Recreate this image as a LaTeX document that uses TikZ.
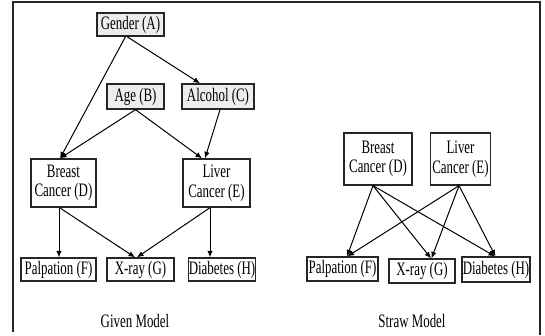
\documentclass[tikz,border=0pt]{standalone}
\usepackage{fontspec}
\setmainfont{Liberation Serif}[FakeStretch=0.68]
\usetikzlibrary{arrows.meta}
\tikzset{
  box/.style={draw=black!85, line width=1.3pt, inner sep=0pt, align=center,
    font=\fontsize{19}{19.5}\selectfont},
  shaded/.style={box, fill=black!7},
  arr/.style={line width=1pt, -{Latex[length=6.5pt,width=5.5pt]}},
  frame/.style={line width=1.1pt, draw=black!85},
  caption/.style={font=\fontsize{19}{19.5}\selectfont, inner sep=0pt, anchor=base}
}
\begin{document}
\begin{tikzpicture}[x=1pt,y=-1pt]
\useasboundingbox (0,0) rectangle (545,335);
% frame
\coordinate (f1) at (13,332);
\coordinate (f2) at (13,2);
\coordinate (f3) at (540,2);
\coordinate (f4) at (540,335);
\draw[frame] (f1) -- (f2) -- (f3) -- (f4);
% Given model
\node[shaded, minimum width=67pt, minimum height=23pt] (A) at (130.5,24.5) {Gender (A)};
\node[shaded, minimum width=57pt, minimum height=25pt] (B) at (135.5,96.5) {Age (B)};
\node[shaded, minimum width=72pt, minimum height=25pt] (C) at (218,96.5) {Alcohol (C)};
\node[box, minimum width=65pt, minimum height=48pt] (D) at (63.5,183) {Breast\\Cancer (D)};
\node[box, minimum width=67pt, minimum height=48pt] (E) at (216.5,183) {Liver\\Cancer (E)};
\node[box, minimum width=75pt, minimum height=23pt] (F) at (58.5,269.5) {Palpation (F)};
\node[box, minimum width=67pt, minimum height=23pt] (G) at (140.5,269.5) {X-ray (G)};
\node[box, minimum width=66pt, minimum height=23pt] (H) at (222,269.5) {Diabetes (H)};
\node[caption] (given) at (135,327) {Given Model};
\draw[arr] ([xshift=-5pt]A.south) -- ([xshift=-3.5pt]D.north);
\draw[arr] ([xshift=-3.5pt]A.south) -- ([xshift=-18pt]C.north);
\draw[arr] (B.south) -- ([xshift=-3.5pt]D.north);
\draw[arr] (B.south) -- ([xshift=-14.5pt]E.north);
\draw[arr] ([xshift=2pt]C.south) -- ([xshift=-11.5pt]E.north);
\draw[arr] ([xshift=-4.5pt]D.south) -- ([xshift=0.5pt]F.north);
\draw[arr] ([xshift=-4pt]D.south) -- ([xshift=-5.5pt]G.north);
\draw[arr] ([xshift=-6.5pt]E.south) -- ([xshift=-3.5pt]G.north);
\draw[arr] ([xshift=-6.5pt]E.south) -- ([xshift=-12pt]H.north);
% Straw model
\node[box, minimum width=68pt, minimum height=52pt] (sD) at (378,159) {Breast\\Cancer (D)};
\node[box, minimum width=60pt, minimum height=52pt] (sE) at (460.5,159) {Liver\\Cancer (E)};
\node[box, minimum width=71pt, minimum height=24pt] (sF) at (342.5,269) {Palpation (F)};
\node[box, minimum width=66pt, minimum height=24pt] (sG) at (422,271) {X-ray (G)};
\node[box, minimum width=68pt, minimum height=25pt] (sH) at (496,269.5) {Diabetes (H)};
\node[caption] (straw) at (412,327) {Straw Model};
\draw[arr] ([xshift=-5pt]sD.south) -- ([xshift=4.5pt]sF.north);
\draw[arr] ([xshift=-5pt]sD.south) -- ([xshift=9pt]sG.north);
\draw[arr] ([xshift=-5pt]sD.south) -- ([xshift=-1pt]sH.north);
\draw[arr] ([xshift=-1.5pt]sE.south) -- ([xshift=5pt]sF.north);
\draw[arr] ([xshift=-1.5pt]sE.south) -- ([xshift=9.5pt]sG.north);
\draw[arr] ([xshift=-1.5pt]sE.south) -- ([xshift=-0.5pt]sH.north);
\end{tikzpicture}
\end{document}
